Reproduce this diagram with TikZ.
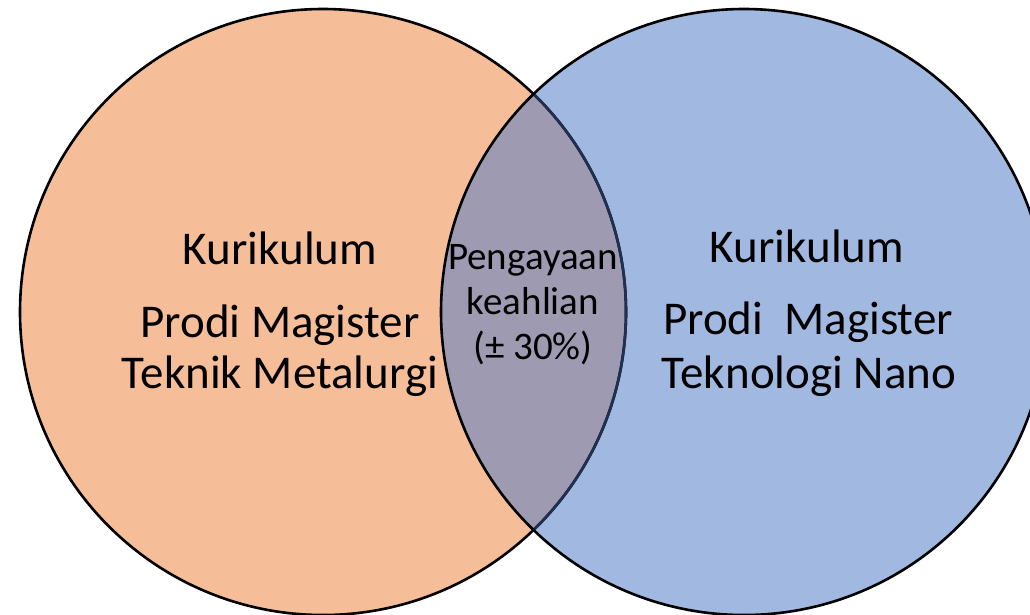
\documentclass[tikz,border=0pt]{standalone}
\usepackage{fontspec}
\setmainfont{Carlito}
\definecolor{orangefill}{RGB}{245,190,152}
\definecolor{bluefill}{RGB}{161,184,224}
\definecolor{lensfill}{RGB}{158,154,177}
\definecolor{navyline}{RGB}{31,48,80}
\begin{document}
\begin{tikzpicture}[x=1pt,y=-1pt,
  bigtext/.style={font=\fontsize{47}{56}\selectfont, anchor=base, inner sep=0pt},
  smalltext/.style={font=\fontsize{39}{46}\selectfont, anchor=base, inner sep=0pt},
  ring/.style={line width=2.6pt}]
\useasboundingbox (0,0) rectangle (1030,614);
\clip (0,0) rectangle (1030,614);
\coordinate (cl) at (323,312);
\coordinate (cr) at (744,312);
% fills
\fill[orangefill] (cl) circle[radius=303];
\fill[bluefill] (cr) circle[radius=303];
\begin{scope}
  \clip (cl) circle[radius=303];
  \fill[lensfill] (cr) circle[radius=303];
\end{scope}
% borders
\draw[ring] (cl) circle[radius=303];
\begin{scope}
  \clip (cr) circle[radius=303];
  \draw[ring, navyline] (cl) circle[radius=303];
\end{scope}
\draw[ring] (cr) circle[radius=303];
% texts
\node[bigtext] (l1) at (280,264) {Kurikulum};
\node[bigtext] (l2) at (280,337) {Prodi Magister};
\node[bigtext] (l3) at (280,388) {Teknik Metalurgi};
\node[bigtext] (r1) at (807,262) {Kurikulum};
\node[bigtext] (r2) at (808,334) {Prodi\ \ Magister};
\node[bigtext] (r3) at (809,388) {Teknologi Nano};
\node[smalltext] (m1) at (533,269) {Pengayaan};
\node[smalltext] (m2) at (533,314) {keahlian};
\node[smalltext] (m3) at (533,359) {(± 30\%)};
\end{tikzpicture}
\end{document}
